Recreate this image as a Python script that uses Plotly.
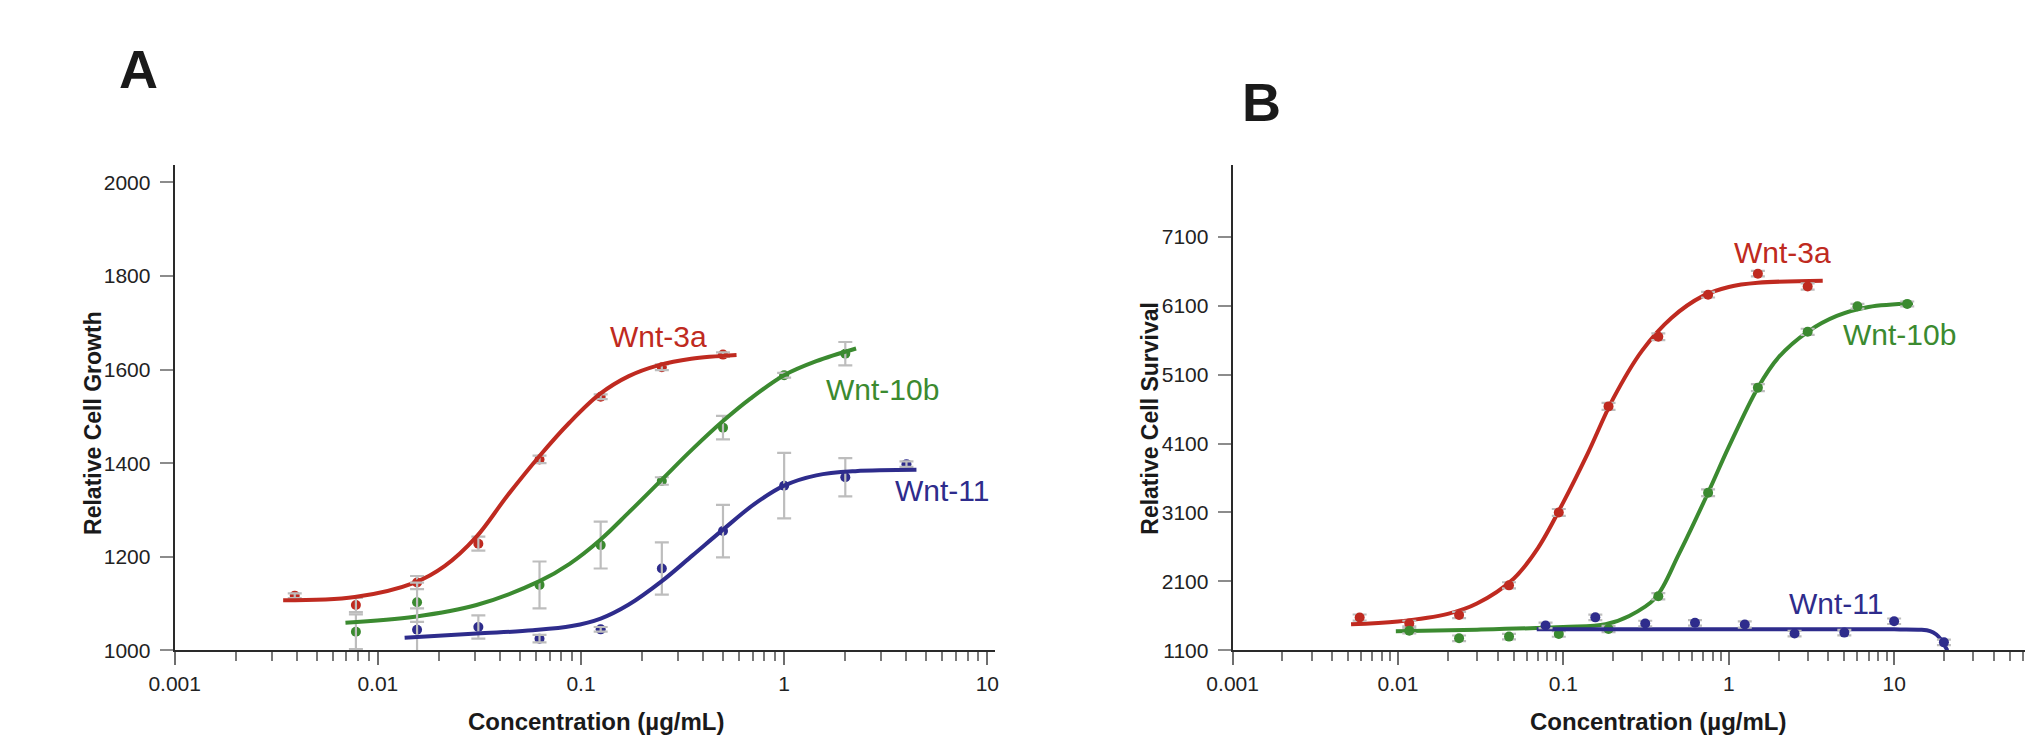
import plotly.graph_objects as go

# ---------------- data: panel A (Relative Cell Growth) ----------------
A_3a_x = [0.0039, 0.0078, 0.0156, 0.03125, 0.0625, 0.125, 0.25, 0.5]
A_3a_y = [1117, 1097, 1145, 1228, 1408, 1542, 1605, 1632]
A_3a_err = [5, 15, 14, 15, 8, 5, 6, 5]

A_10b_x = [0.0078, 0.0156, 0.0625, 0.125, 0.25, 0.5, 1.0, 2.0]
A_10b_y = [1040, 1103, 1140, 1225, 1362, 1476, 1588, 1634]
A_10b_err = [37, 42, 50, 50, 8, 25, 5, 25]

A_11_x = [0.0156, 0.03125, 0.0625, 0.125, 0.25, 0.5, 1.0, 2.0, 4.0]
A_11_y = [1044, 1050, 1025, 1045, 1175, 1255, 1352, 1370, 1398]
A_11_err = [46, 25, 8, 5, 56, 56, 70, 41, 6]

# fitted curves
A_3a_cx = [0.00342, 0.0077, 0.0152, 0.0213, 0.0306, 0.0433, 0.0624, 0.0879, 0.124, 0.172, 0.24, 0.349, 0.583]
A_3a_cy = [1107, 1114, 1145, 1180, 1243, 1330, 1415, 1487, 1548, 1586, 1609, 1623, 1631]

A_10b_cx = [0.00693, 0.0152, 0.0306, 0.0625, 0.0879, 0.125, 0.172, 0.25, 0.354, 0.5, 0.682, 1.0, 1.44, 2.26]
A_10b_cy = [1059, 1072, 1097, 1148, 1185, 1237, 1295, 1365, 1430, 1490, 1538, 1588, 1618, 1645]

A_11_cx = [0.01355, 0.0306, 0.058, 0.09, 0.125, 0.172, 0.25, 0.354, 0.5, 0.71, 1.0, 1.44, 2.24, 4.48]
A_11_cy = [1027, 1036, 1043, 1052, 1068, 1098, 1148, 1203, 1258, 1312, 1352, 1374, 1383, 1386]

# ---------------- data: panel B (Relative Cell Survival) ----------------
B_3a_x = [0.00586, 0.0117, 0.0234, 0.0469, 0.0938, 0.1875, 0.375, 0.75, 1.5, 3.0]
B_3a_y = [1576, 1490, 1614, 2043, 3100, 4638, 5648, 6257, 6562, 6376]
B_3a_err = [45, 40, 45, 45, 50, 50, 50, 40, 40, 45]

B_10b_x = [0.0117, 0.0234, 0.0469, 0.0938, 0.1875, 0.375, 0.75, 1.5, 3.0, 6.0, 12.0]
B_10b_y = [1386, 1276, 1300, 1338, 1410, 1886, 3386, 4910, 5719, 6090, 6124]
B_10b_err = [40, 40, 40, 40, 45, 45, 50, 50, 45, 35, 35]

B_11_x = [0.078, 0.156, 0.3125, 0.625, 1.25, 2.5, 5.0, 10.0, 20.0]
B_11_y = [1462, 1579, 1490, 1500, 1476, 1344, 1358, 1523, 1217]
B_11_err = [40, 40, 40, 40, 45, 40, 40, 40, 40]

B_3a_cx = [0.0052, 0.01, 0.02, 0.03, 0.05, 0.07, 0.1, 0.14, 0.2, 0.3, 0.45, 0.7, 1.0, 1.5, 3.7]
B_3a_cy = [1480, 1520, 1630, 1780, 2140, 2580, 3250, 3950, 4750, 5450, 5920, 6240, 6370, 6430, 6460]

B_10b_cx = [0.0097, 0.03, 0.1, 0.18, 0.25, 0.36, 0.5, 0.75, 1.0, 1.5, 2.0, 3.0, 4.5, 7.0, 13.0]
B_10b_cy = [1376, 1400, 1440, 1480, 1600, 1860, 2500, 3386, 4050, 4910, 5350, 5720, 5950, 6080, 6130]

B_11_cx = [0.069, 1.0, 10.0, 14.5, 16.5, 18.0, 19.3, 20.2, 21.0]
B_11_cy = [1405, 1405, 1405, 1400, 1380, 1330, 1250, 1170, 1100]

# ---------------- axis labels ----------------
x_tickvals = [0.001, 0.01, 0.1, 1, 10]
x_ticktext = ["0.001", "0.01", "0.1", "1", "10"]
yA_ticks = [1000, 1200, 1400, 1600, 1800, 2000]
yB_ticks = [1100, 2100, 3100, 4100, 5100, 6100, 7100]
series_names = ["Wnt-3a", "Wnt-10b", "Wnt-11"]

RED = "#bf2a20"
GREEN = "#3b8a30"
BLUE = "#2e2c8c"
GRAY = "#bdbdbd"
SANS = "Liberation Sans, Arial, sans-serif"

W, H = 2033, 748

fig = go.Figure()


def add_series(xa, ya, px, py, perr, cx, cy, color, name, line_on_top):
    line = go.Scatter(x=cx, y=cy, mode="lines", line=dict(color=color, width=4, shape="spline", smoothing=1.0),
                      xaxis=xa, yaxis=ya, name=name, showlegend=False, hoverinfo="skip")
    pts = go.Scatter(x=px, y=py, mode="markers", marker=dict(color=color, size=10),
                     xaxis=xa, yaxis=ya, name=name, showlegend=False)
    errs = go.Scatter(x=px, y=py, mode="markers", marker=dict(color=color, size=1, opacity=0),
                      error_y=dict(type="data", array=perr, visible=True, color=GRAY, thickness=2.2, width=7),
                      xaxis=xa, yaxis=ya, name=name, showlegend=False, hoverinfo="skip")
    if line_on_top:
        fig.add_trace(pts)
        fig.add_trace(errs)
        fig.add_trace(line)
    else:
        fig.add_trace(line)
        fig.add_trace(errs)
        fig.add_trace(pts)


add_series("x", "y", A_3a_x, A_3a_y, A_3a_err, A_3a_cx, A_3a_cy, RED, series_names[0], True)
add_series("x", "y", A_10b_x, A_10b_y, A_10b_err, A_10b_cx, A_10b_cy, GREEN, series_names[1], True)
add_series("x", "y", A_11_x, A_11_y, A_11_err, A_11_cx, A_11_cy, BLUE, series_names[2], True)

add_series("x2", "y2", B_3a_x, B_3a_y, B_3a_err, B_3a_cx, B_3a_cy, RED, series_names[0], False)
add_series("x2", "y2", B_10b_x, B_10b_y, B_10b_err, B_10b_cx, B_10b_cy, GREEN, series_names[1], False)
add_series("x2", "y2", B_11_x, B_11_y, B_11_err, B_11_cx, B_11_cy, BLUE, series_names[2], False)

tickfont = dict(family=SANS, size=21, color="#222222")

xcommon = dict(type="log", showgrid=False, zeroline=False, showline=True, linecolor="#2a2a2a", linewidth=2,
               ticks="outside", ticklen=13, tickwidth=2, tickcolor="#6e6e6e",
               tickmode="array", tickvals=x_tickvals, ticktext=x_ticktext, tickfont=tickfont,
               minor=dict(ticks="outside", ticklen=9, tickwidth=2, tickcolor="#7a7a7a", dtick="D1", showgrid=False))
ycommon = dict(showgrid=False, zeroline=False, showline=True, linecolor="#2a2a2a", linewidth=2,
               ticks="outside", ticklen=13, tickwidth=2, tickcolor="#8c8c8c", tickfont=tickfont,
               ticklabelstandoff=5)

ydom = [1 - 652 / H, 1 - 159 / H]

fig.update_layout(
    width=W, height=H, margin=dict(l=0, r=0, t=0, b=0),
    paper_bgcolor="white", plot_bgcolor="white", showlegend=False,
    xaxis=dict(**xcommon, anchor="y", range=[-3, 1.04], domain=[142.7 / W, (142.7 + 4.04 * 206.1) / W]),
    yaxis=dict(**ycommon, anchor="x", range=[1000, 1000 + 493 / 0.475], domain=ydom,
               tickmode="array", tickvals=yA_ticks),
    xaxis2=dict(**xcommon, anchor="y2", range=[-3, 1.87], domain=[1216 / W, 1.0]),
    yaxis2=dict(**ycommon, anchor="x2", range=[1100, 1100 + 493 / 0.07], domain=ydom,
                tickmode="array", tickvals=yB_ticks),
)


def px_ann(text, x, y, size, color="#1a1a1a", weight="normal", angle=0):
    fig.add_annotation(text=text, xref="paper", yref="paper", x=x / W, y=1 - y / H,
                       xanchor="center", yanchor="middle", showarrow=False, textangle=angle,
                       font=dict(family=SANS, size=size, color=color, weight=weight))


# panel letters
px_ann("A", 106, 62, 54, weight="bold")
px_ann("B", 1245, 95, 54, weight="bold")
# axis titles
px_ann("Relative Cell Growth", 60, 421, 23, weight="bold", angle=-90)
px_ann("Relative Cell Survival", 1132, 416, 23, weight="bold", angle=-90)
px_ann("Concentration (µg/mL)", 570, 724, 24, weight="bold")
px_ann("Concentration (µg/mL)", 1648, 724, 24, weight="bold")
# series labels
px_ann(series_names[0], 634, 333, 30, color=RED)
px_ann(series_names[1], 861, 387, 30, color=GREEN)
px_ann(series_names[2], 921, 490, 30, color=BLUE)
px_ann(series_names[0], 1774, 248, 30, color=RED)
px_ann(series_names[1], 1893, 331, 30, color=GREEN)
px_ann(series_names[2], 1828, 604, 30, color=BLUE)

fig.write_html("out.html")
